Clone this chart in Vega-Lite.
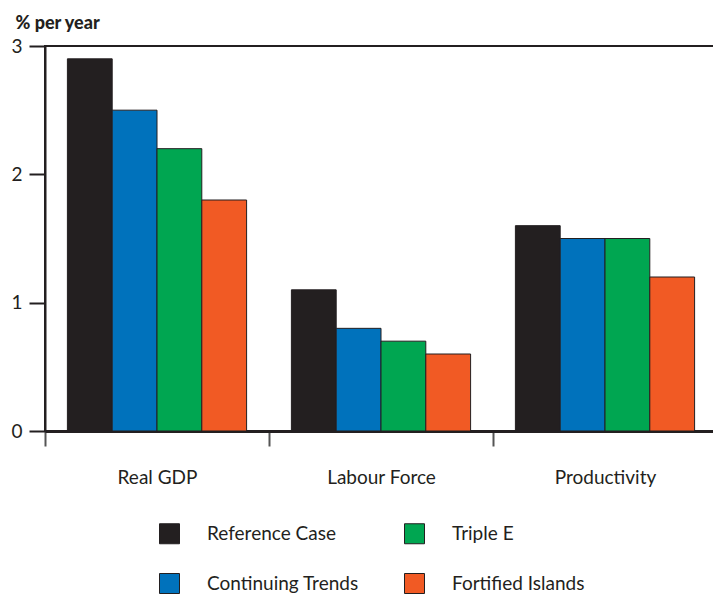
{
  "$schema": "https://vega.github.io/schema/vega-lite/v6.json",
  "autosize": "none",
  "width": 672,
  "height": 385,
  "padding": {"left": 45, "top": 46, "right": 0, "bottom": 163},
  "background": "white",
  "config": {
    "font": "Lato",
    "view": {"stroke": "#231f20", "strokeWidth": 2},
    "axis": {"labelColor": "#231f20", "titleColor": "#231f20", "labelFont": "Lato", "titleFont": "Lato"}
  },
  "data": {
    "values": [
      {"category": "Real GDP", "scenario": "Reference Case", "value": 2.9},
      {"category": "Real GDP", "scenario": "Continuing Trends", "value": 2.5},
      {"category": "Real GDP", "scenario": "Triple E", "value": 2.2},
      {"category": "Real GDP", "scenario": "Fortified Islands", "value": 1.8},
      {"category": "Labour Force", "scenario": "Reference Case", "value": 1.1},
      {"category": "Labour Force", "scenario": "Continuing Trends", "value": 0.8},
      {"category": "Labour Force", "scenario": "Triple E", "value": 0.7},
      {"category": "Labour Force", "scenario": "Fortified Islands", "value": 0.6},
      {"category": "Productivity", "scenario": "Reference Case", "value": 1.6},
      {"category": "Productivity", "scenario": "Continuing Trends", "value": 1.5},
      {"category": "Productivity", "scenario": "Triple E", "value": 1.5},
      {"category": "Productivity", "scenario": "Fortified Islands", "value": 1.2}
    ]
  },
  "mark": {"type": "bar", "stroke": "#231f20", "strokeWidth": 1},
  "encoding": {
    "x": {
      "field": "category",
      "type": "nominal",
      "sort": ["Real GDP", "Labour Force", "Productivity"],
      "scale": {"paddingInner": 0, "paddingOuter": 0},
      "axis": {
        "title": null,
        "labelAngle": 0,
        "tickBand": "extent",
        "tickSize": 15,
        "tickWidth": 2,
        "tickColor": "#555555",
        "domainColor": "#231f20",
        "domainWidth": 3,
        "labelFontSize": 19,
        "labelPadding": 22,
        "labelBaseline": "top"
      }
    },
    "xOffset": {
      "field": "scenario",
      "type": "nominal",
      "sort": ["Reference Case", "Continuing Trends", "Triple E", "Fortified Islands"],
      "scale": {"paddingInner": 0, "paddingOuter": 0.5}
    },
    "y": {
      "field": "value",
      "type": "quantitative",
      "scale": {"domain": [0, 3], "nice": false},
      "axis": {
        "values": [0, 1, 2, 3],
        "format": "d",
        "grid": false,
        "title": "% per year",
        "titleAngle": 0,
        "titleAlign": "left",
        "titleBaseline": "alphabetic",
        "titleX": -30,
        "titleY": -18,
        "titleFontSize": 18,
        "titleFontWeight": 900,
        "tickSize": 16,
        "tickWidth": 2,
        "tickColor": "#231f20",
        "domainColor": "#231f20",
        "domainWidth": 2,
        "labelFontSize": 19,
        "labelPadding": 7
      }
    },
    "color": {
      "field": "scenario",
      "type": "nominal",
      "scale": {
        "domain": ["Reference Case", "Triple E", "Continuing Trends", "Fortified Islands"],
        "range": ["#231f20", "#00a651", "#0072bc", "#f15a24"]
      },
      "legend": {
        "title": null,
        "orient": "none",
        "legendX": 114,
        "legendY": 477,
        "columns": 2,
        "direction": "horizontal",
        "padding": 0,
        "symbolType": "square",
        "symbolSize": 400,
        "symbolStrokeColor": "#231f20",
        "symbolStrokeWidth": 1,
        "symbolOpacity": 1,
        "labelFontSize": 19,
        "labelColor": "#231f20",
        "labelOffset": 27,
        "rowPadding": 25,
        "columnPadding": 43,
        "gridAlign": "all",
        "labelLimit": 300
      }
    }
  }
}
